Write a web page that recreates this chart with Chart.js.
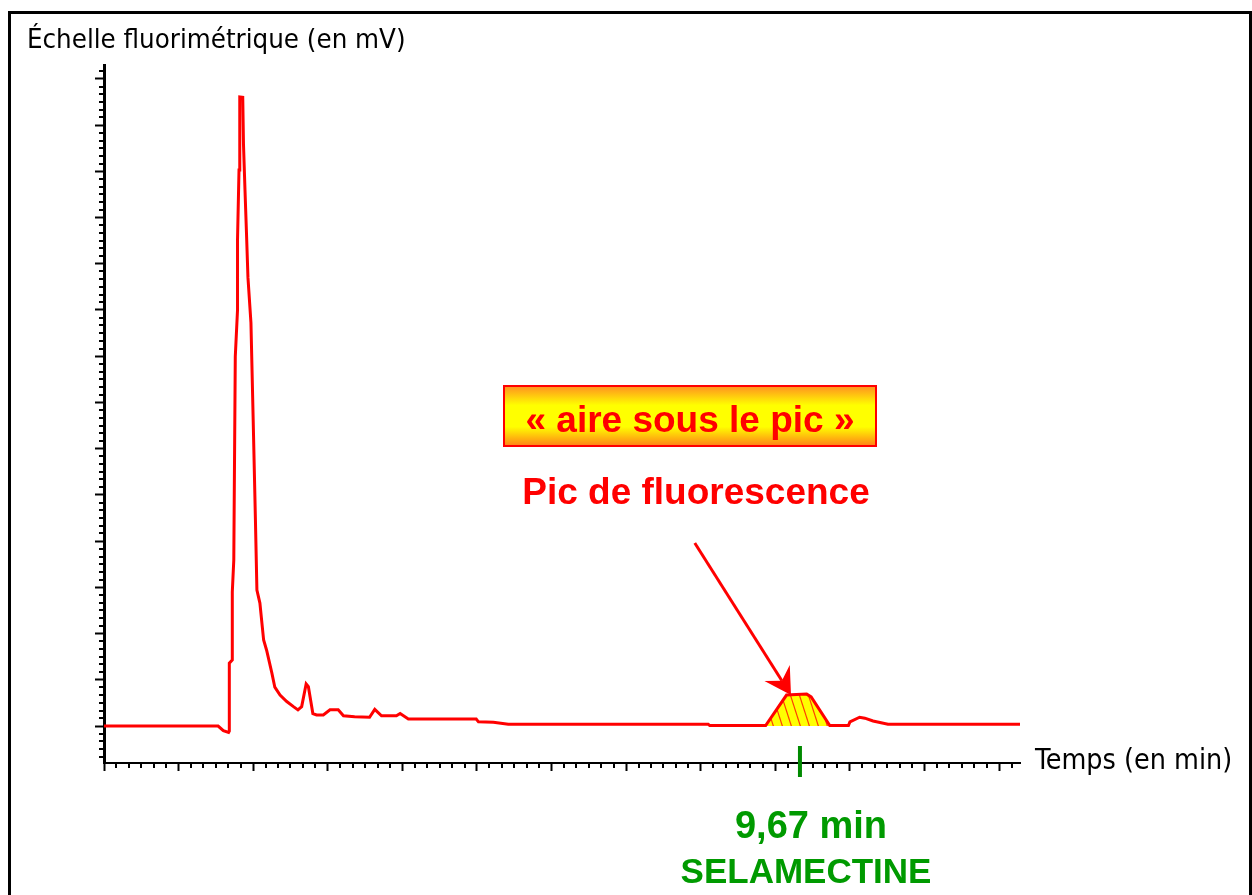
<!DOCTYPE html>
<html lang="fr">
<head>
<meta charset="utf-8">
<title>Chromatogramme – sélamectine</title>
<script src="https://cdn.jsdelivr.net/npm/chart.js@4.4.1/dist/chart.umd.min.js"></script>
<style>
  html, body { margin: 0; padding: 0; background: #fff; overflow: hidden; }
  #frame {
    position: absolute; left: 8px; top: 11px; width: 1244px; height: 900px;
    box-sizing: border-box; border: 3px solid #000;
  }
  #wrap { position: absolute; left: 0; top: 0; width: 1252px; height: 895px; }
</style>
</head>
<body>
<div id="frame"></div>
<div id="wrap"><canvas id="chromato"></canvas></div>
<script>
// trace: time (min) / signal (mV above baseline)
const times = [
  0.34, 1.87, 1.94, 2.01, 2.02, 2.02, 2.06, 2.06, 2.08, 2.10, 2.13, 2.13, 2.15, 2.16,
  2.20, 2.21, 2.23, 2.25, 2.27, 2.31, 2.34, 2.37, 2.39, 2.43, 2.48, 2.52, 2.59, 2.63,
  2.70, 2.79, 2.88, 2.94, 2.99, 3.05, 3.08, 3.14, 3.19, 3.28, 3.37, 3.48, 3.55, 3.70,
  3.90, 3.97, 4.06, 4.26, 4.31, 4.42, 5.33, 5.36, 5.56, 5.76, 8.44, 8.46, 9.21, 9.49,
  9.76, 9.82, 10.07, 10.32, 10.34, 10.47, 10.54, 10.65, 10.85, 12.62
];
const signal = [
  0, 0, -1.0, -1.4, -1.1, 13.6, 14.3, 29.0, 35.9, 79.9, 90.0, 105.2, 120.3, 136.1,
  136.0, 125.8, 116.0, 106.7, 97.0, 87.2, 66.2, 44.6, 29.4, 26.6, 18.6, 16.4, 11.5, 8.4,
  6.7, 5.3, 4.2, 3.5, 4.2, 9.1, 8.5, 2.7, 2.4, 2.4, 3.5, 3.5, 2.2, 2.0,
  1.9, 3.6, 2.2, 2.2, 2.7, 1.5, 1.5, 0.9, 0.8, 0.4, 0.4, 0.1, 0.1, 6.7,
  6.9, 6.3, 0.1, 0.1, 0.9, 1.9, 1.7, 1.1, 0.4, 0.4
];

// axes (no tick labels on the original)
const xRange = [0.34, 12.62];   // min
const yRange = [-8, 143];       // mV
const xMajorStep = 1, xMinorDiv = 6;
const yMajorStep = 10, yMinorDiv = 6;

// selamectine peak
const retentionTime = 9.67;
const peakWindow = [9.21, 10.07];
const arrowFrom = [8.26, 39.6];
const arrowTo = [9.55, 6.7];

const trace = times.map((t, i) => ({ x: t, y: signal[i] }));
const peakArea = trace.filter(p => p.x >= peakWindow[0] && p.x <= peakWindow[1]);

// yellow with red hatching for the integrated area
function makeHatch() {
  const w = 9, h = 28;
  const c = document.createElement('canvas');
  c.width = w; c.height = h;
  const g = c.getContext('2d');
  g.fillStyle = '#ffff00';
  g.fillRect(0, 0, w, h);
  g.strokeStyle = '#ff4000';
  g.lineWidth = 1.2;
  for (const ox of [-w, 0, w]) {
    g.beginPath();
    g.moveTo(ox - w, -h);
    g.lineTo(ox + 2 * w, 2 * h);
    g.stroke();
  }
  return g.createPattern(c, 'repeat');
}

const RED = '#ff0000';
const GREEN = '#009a00';
const BOLD = '"Liberation Sans", Arial, sans-serif';
const PLAIN = '"DejaVu Sans Condensed", "DejaVu Sans", sans-serif';

const decor = {
  id: 'decor',
  afterDraw(chart) {
    const { ctx, chartArea: a, scales: { x, y } } = chart;
    ctx.save();

    // minor ticks
    ctx.strokeStyle = '#000';
    ctx.lineWidth = 2;
    ctx.beginPath();
    const xs = xMajorStep / xMinorDiv;
    for (let k = 1; xRange[0] + k * xs <= xRange[1] + 1e-9; k++) {
      if (k % xMinorDiv === 0) continue;
      const px = Math.round(x.getPixelForValue(xRange[0] + k * xs));
      ctx.moveTo(px, a.bottom);
      ctx.lineTo(px, a.bottom + 5);
    }
    const ys = yMajorStep / yMinorDiv;
    for (let k = Math.ceil(yRange[0] / ys); k * ys <= yRange[1]; k++) {
      if (k % yMinorDiv === 0) continue;
      const py = Math.round(y.getPixelForValue(k * ys));
      ctx.moveTo(a.left - 5, py);
      ctx.lineTo(a.left, py);
    }
    ctx.stroke();

    // retention time marker
    const rx = x.getPixelForValue(retentionTime);
    ctx.strokeStyle = '#008a00';
    ctx.lineWidth = 4;
    ctx.beginPath();
    ctx.moveTo(rx, a.bottom - 17);
    ctx.lineTo(rx, a.bottom + 14);
    ctx.stroke();

    // arrow towards the peak
    const x0 = x.getPixelForValue(arrowFrom[0]), y0 = y.getPixelForValue(arrowFrom[1]);
    const x1 = x.getPixelForValue(arrowTo[0]), y1 = y.getPixelForValue(arrowTo[1]);
    const len = Math.hypot(x1 - x0, y1 - y0);
    const ux = (x1 - x0) / len, uy = (y1 - y0) / len;
    const nx = -uy, ny = ux;
    const head = 26, half = 15, notch = 17;
    ctx.strokeStyle = RED;
    ctx.lineWidth = 3;
    ctx.beginPath();
    ctx.moveTo(x0, y0);
    ctx.lineTo(x1 - ux * notch, y1 - uy * notch);
    ctx.stroke();
    ctx.fillStyle = RED;
    ctx.beginPath();
    ctx.moveTo(x1, y1);
    ctx.lineTo(x1 - ux * head + nx * half, y1 - uy * head + ny * half);
    ctx.lineTo(x1 - ux * notch, y1 - uy * notch);
    ctx.lineTo(x1 - ux * head - nx * half, y1 - uy * head - ny * half);
    ctx.closePath();
    ctx.fill();

    // "aire sous le pic" box
    const bx = 504, by = 386, bw = 372, bh = 60;
    const grad = ctx.createLinearGradient(0, by, 0, by + bh);
    grad.addColorStop(0, '#ff9020');
    grad.addColorStop(0.32, '#ffff00');
    grad.addColorStop(0.68, '#ffff00');
    grad.addColorStop(1, '#ff8018');
    ctx.fillStyle = grad;
    ctx.fillRect(bx, by, bw, bh);
    ctx.strokeStyle = RED;
    ctx.lineWidth = 2;
    ctx.strokeRect(bx, by, bw, bh);

    ctx.textAlign = 'center';
    ctx.textBaseline = 'alphabetic';
    ctx.fillStyle = RED;
    ctx.font = 'bold 37px ' + BOLD;
    ctx.fillText('« aire sous le pic »', 690, 432);
    ctx.fillText('Pic de fluorescence', 696, 504);

    ctx.fillStyle = GREEN;
    ctx.font = 'bold 38px ' + BOLD;
    ctx.fillText('9,67 min', 811, 838);
    ctx.font = 'bold 35px ' + BOLD;
    ctx.fillText('SELAMECTINE', 806, 883);

    // axis names
    ctx.textAlign = 'left';
    ctx.fillStyle = '#000';
    ctx.font = '27.4px ' + PLAIN;
    ctx.fillText('Échelle fluorimétrique (en mV)', 27, 48);
    ctx.font = '28.4px ' + PLAIN;
    ctx.fillText('Temps (en min)', 1035, 769);

    ctx.restore();
  }
};

const axisLook = (tickLength, borderWidth) => ({
  grid: { drawOnChartArea: false, drawTicks: true, tickLength, tickWidth: 2, tickColor: '#000' },
  border: { display: true, color: '#000', width: borderWidth },
  ticks: { display: false }
});

new Chart(document.getElementById('chromato'), {
  type: 'line',
  data: {
    datasets: [
      {
        label: 'Signal',
        data: trace,
        borderColor: RED,
        borderWidth: 3,
        pointRadius: 0,
        tension: 0,
        fill: false
      },
      {
        label: 'Aire',
        data: peakArea,
        borderColor: 'rgba(0,0,0,0)',
        borderWidth: 0,
        pointRadius: 0,
        tension: 0,
        fill: 'origin',
        backgroundColor: makeHatch()
      }
    ]
  },
  options: {
    responsive: true,
    maintainAspectRatio: false,
    animation: false,
    events: [],
    layout: { padding: { top: 65, right: 232, bottom: 92, left: 0 } },
    plugins: { legend: { display: false }, tooltip: { enabled: false } },
    scales: {
      x: {
        type: 'linear',
        min: xRange[0],
        max: xRange[1],
        ...axisLook(8, 2),
        afterFit: s => { s.height = 40; },
        afterBuildTicks: s => {
          const t = [];
          for (let v = xRange[0]; v <= xRange[1] + 1e-9; v += xMajorStep) t.push({ value: v });
          s.ticks = t;
        }
      },
      y: {
        type: 'linear',
        min: yRange[0],
        max: yRange[1],
        ...axisLook(9, 3),
        afterFit: s => { s.width = 104; },
        afterBuildTicks: s => {
          const t = [];
          for (let v = 0; v <= yRange[1]; v += yMajorStep) t.push({ value: v });
          s.ticks = t;
        }
      }
    }
  },
  plugins: [decor]
});
</script>
</body>
</html>
